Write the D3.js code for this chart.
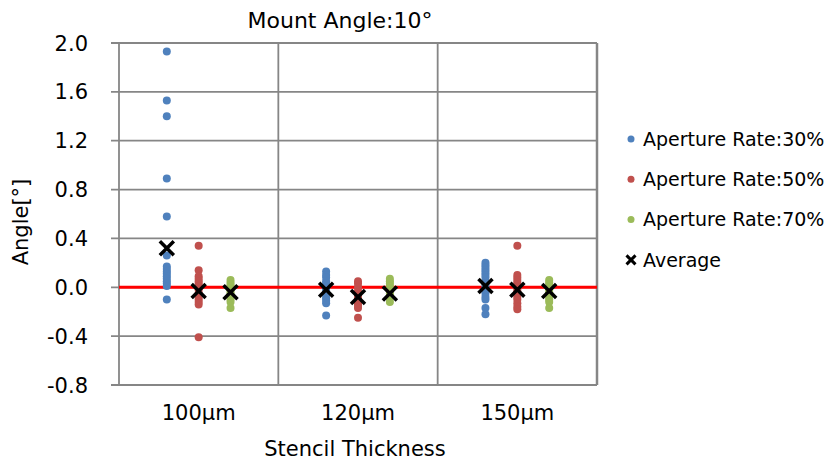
<!DOCTYPE html>
<meta charset="utf-8">
<style>
body { margin: 0; background: #fff; }
text { font-family: "DejaVu Sans", Verdana, sans-serif; fill: #000; }
.grid line { stroke: #868686; stroke-width: 1.8px; }
.tick-label { font-size: 21px; }
</style>
<body>
<script src="https://d3js.org/d3.v7.min.js"></script>
<script>

const width = 837;
const height = 462;

// data
const categories = ["100µm", "120µm", "150µm"];
const seriesNames = ["Aperture Rate:30%", "Aperture Rate:50%", "Aperture Rate:70%"];
const colors = ["#4f81bd", "#c0504d", "#9bbb59"];

const rate30 = [
  [1.93, 1.53, 1.40, 0.89, 0.58, 0.26, 0.17, 0.15, 0.13, 0.11, 0.09, 0.07, 0.05, 0.03, 0.01, -0.10],
  [0.13, 0.10, 0.08, 0.05, 0.03, 0.01, -0.01, -0.03, -0.05, -0.07, -0.09, -0.11, -0.13, -0.23],
  [0.20, 0.18, 0.16, 0.14, 0.12, 0.10, 0.08, 0.05, 0.03, 0.01, -0.01, -0.03, -0.05, -0.08, -0.10, -0.17, -0.22]
];
const rate50 = [
  [0.34, 0.14, 0.09, 0.07, 0.05, 0.03, 0.01, -0.02, -0.05, -0.08, -0.10, -0.12, -0.14, -0.41],
  [0.05, 0.03, 0.00, -0.03, -0.05, -0.07, -0.09, -0.11, -0.13, -0.15, -0.17, -0.25],
  [0.34, 0.10, 0.08, 0.06, 0.04, 0.02, 0.00, -0.02, -0.04, -0.06, -0.08, -0.10, -0.13, -0.16, -0.18]
];
const rate70 = [
  [0.06, 0.04, 0.02, 0.00, -0.02, -0.04, -0.06, -0.08, -0.10, -0.12, -0.17],
  [0.07, 0.05, 0.03, 0.01, -0.01, -0.03, -0.05, -0.07, -0.09, -0.12],
  [0.06, 0.04, 0.02, 0.00, -0.02, -0.04, -0.06, -0.08, -0.10, -0.12, -0.17]
];
const averages = [
  [0.32, -0.03, -0.04],
  [-0.02, -0.08, -0.05],
  [0.01, -0.02, -0.03]
];
const yTicks = [-0.8, -0.4, 0.0, 0.4, 0.8, 1.2, 1.6, 2.0];

const margin = {left: 119, right: 240, top: 43, bottom: 77};

const svg = d3.select("body").append("svg")
    .attr("width", width)
    .attr("height", height);

const x = d3.scaleBand()
    .domain(categories)
    .range([margin.left, width - margin.right]);

const inner = d3.scalePoint()
    .domain(seriesNames)
    .range([x.bandwidth() * 0.3, x.bandwidth() * 0.7]);

const y = d3.scaleLinear()
    .domain([-0.8, 2.0])
    .range([height - margin.bottom, margin.top]);

// gridlines + tick marks
const grid = svg.append("g").attr("class", "grid");
grid.selectAll(".h")
    .data(yTicks)
  .enter().append("line")
    .attr("x1", margin.left - 8)
    .attr("x2", width - margin.right)
    .attr("y1", d => y(d))
    .attr("y2", d => y(d));

const xEdges = categories.map(c => x(c)).concat([x.range()[1]]);
grid.selectAll(".v")
    .data(xEdges)
  .enter().append("line")
    .attr("x1", d => d)
    .attr("x2", d => d)
    .attr("y1", y(2.0))
    .attr("y2", y(-0.8))
    .style("stroke-width", (d, i) => i === xEdges.length - 1 ? 2.5 : 1.8);

// zero line
svg.append("line")
    .attr("x1", margin.left)
    .attr("x2", width - margin.right)
    .attr("y1", y(0))
    .attr("y2", y(0))
    .attr("stroke", "#ff0000")
    .attr("stroke-width", 3);

// y labels
svg.append("g").selectAll("text")
    .data(yTicks)
  .enter().append("text")
    .attr("class", "tick-label")
    .attr("x", 88)
    .attr("y", d => y(d))
    .attr("dy", "0.36em")
    .attr("text-anchor", "end")
    .text(d => d.toFixed(1));

// x labels
svg.append("g").selectAll("text")
    .data(categories)
  .enter().append("text")
    .attr("class", "tick-label")
    .attr("x", d => x(d) + x.bandwidth() / 2)
    .attr("y", 420)
    .attr("text-anchor", "middle")
    .text(d => d);

// titles
svg.append("text")
    .attr("x", 340)
    .attr("y", 28)
    .attr("text-anchor", "middle")
    .style("font-size", "22px")
    .text("Mount Angle:10°");

svg.append("text")
    .attr("x", 355)
    .attr("y", 456)
    .attr("text-anchor", "middle")
    .style("font-size", "21px")
    .text("Stencil Thickness");

svg.append("text")
    .attr("transform", "translate(28,222) rotate(-90)")
    .attr("text-anchor", "middle")
    .style("font-size", "21px")
    .text("Angle[°]");

// scatter points
const seriesData = [rate30, rate50, rate70];
seriesData.forEach((ser, si) => {
  const pts = [];
  ser.forEach((vals, ci) => vals.forEach(v => pts.push({cat: categories[ci], v: v})));
  svg.append("g").selectAll("circle")
      .data(pts)
    .enter().append("circle")
      .attr("cx", d => x(d.cat) + inner(seriesNames[si]))
      .attr("cy", d => y(d.v))
      .attr("r", 4)
      .attr("fill", colors[si]);
});

// average markers
const avgPts = [];
averages.forEach((row, ci) => row.forEach((v, si) =>
  avgPts.push({cat: categories[ci], s: seriesNames[si], v: v})));

const cross = s => `M${-s},${-s}L${s},${s}M${-s},${s}L${s},${-s}`;

svg.append("g").selectAll("path")
    .data(avgPts)
  .enter().append("path")
    .attr("transform", d => `translate(${x(d.cat) + inner(d.s)},${y(d.v)})`)
    .attr("d", cross(7))
    .attr("fill", "none")
    .attr("stroke", "#000")
    .attr("stroke-width", 3.5);

// legend
const legend = svg.append("g");
const legendItems = seriesNames.concat(["Average"]);
const row = legend.selectAll("g")
    .data(legendItems)
  .enter().append("g")
    .attr("transform", (d, i) => `translate(631,${139 + i * 40.3})`);

row.filter((d, i) => i < 3).append("circle")
    .attr("r", 3.5)
    .attr("fill", (d, i) => colors[i]);

row.filter((d, i) => i === 3).append("path")
    .attr("d", cross(4.5))
    .attr("stroke", "#000")
    .attr("stroke-width", 3);

row.append("text")
    .attr("x", 12)
    .attr("dy", "0.36em")
    .style("font-size", "19px")
    .text(d => d);

</script>
</body>
